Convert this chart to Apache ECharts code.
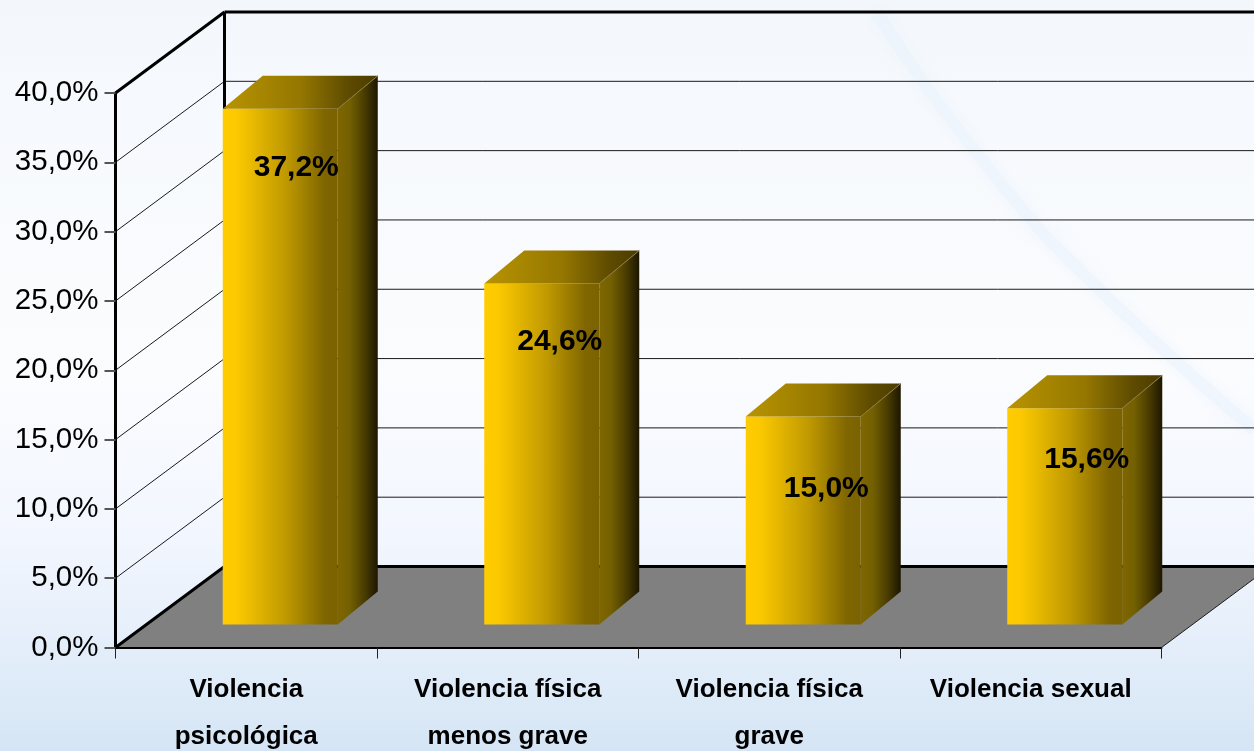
<!DOCTYPE html>
<html>
<head>
<meta charset="utf-8">
<style>
  html, body { margin: 0; padding: 0; }
  #chart { width: 1254px; height: 751px; }
</style>
<script src="https://cdn.jsdelivr.net/npm/echarts@6/dist/echarts.min.js"></script>
</head>
<body>
<div id="chart"></div>
<script>
const categories = ['Violencia\npsicológica', 'Violencia física\nmenos grave', 'Violencia física\ngrave', 'Violencia sexual'];
const values = [37.2, 24.6, 15.0, 15.6];
const yTicks = [5, 10, 15, 20, 25, 30, 35];

// the fake 3D box: how far the back wall sits from the axes
const wallDx = 109, wallDy = -81;
// bars stand in the middle of the floor
const barShiftX = 34, barShiftY = -23, barWidth = 115;
const barDx = 40, barDy = -33;
// labels are not centred in the original, each one was moved by hand
const labelNudge = [[16, 59], [18, 58], [23, 72], [22, 51]];

const fmt = v => v.toFixed(1).replace('.', ',') + '%';
const hGrad = (stops) => ({
  type: 'linear', x: 0, y: 0, x2: 1, y2: 0,
  colorStops: stops.map(s => ({ offset: s[0], color: s[1] }))
});

function renderWalls(params, api) {
  const o = api.coord([0, 0]);
  const top = api.coord([0, 40]);
  const end = api.coord([categories.length - 1, 0]);
  const half = api.size([1, 0])[0] / 2;
  const x0 = o[0] - half, x1 = end[0] + half, y0 = o[1], yT = top[1];
  const thick = { stroke: '#000', lineWidth: 3, fill: null };
  const thin = { stroke: '#1a1a1a', lineWidth: 1, fill: null };
  const line = (a, b, c, d, style) => ({ type: 'line', shape: { x1: a, y1: b, x2: c, y2: d }, style: style });
  const kids = [{
    type: 'polygon',
    shape: { points: [[x0, y0], [x0 + wallDx, y0 + wallDy], [x1 + wallDx, y0 + wallDy], [x1, y0]] },
    style: { fill: '#808080' }
  }];
  yTicks.forEach(t => {
    const y = api.coord([0, t])[1];
    kids.push(line(x0, y, x0 + wallDx, y + wallDy, thin));
    kids.push(line(x0 + wallDx, y + wallDy, x1 + wallDx, y + wallDy, thin));
  });
  kids.push(line(x0, yT, x0 + wallDx, yT + wallDy, thick));
  kids.push(line(x0 + wallDx, yT + wallDy, x1 + wallDx, yT + wallDy, thick));
  kids.push(line(x0 + wallDx, yT + wallDy, x0 + wallDx, y0 + wallDy, thick));
  kids.push(line(x0, y0, x0 + wallDx, y0 + wallDy, thick));
  kids.push(line(x0 + wallDx, y0 + wallDy, x1 + wallDx, y0 + wallDy, thick));
  kids.push(line(x1, y0, x1 + wallDx, y0 + wallDy, thin));
  return { type: 'group', children: kids };
}

function renderBar(params, api) {
  const i = api.value(0);
  const base = api.coord([i, 0]);
  const head = api.coord([i, api.value(1)]);
  const left = base[0] + barShiftX - barWidth / 2;
  const right = left + barWidth;
  const yb = base[1] + barShiftY;
  const yt = head[1] + barShiftY;
  const nudge = labelNudge[i];
  return {
    type: 'group',
    children: [
      {
        type: 'polygon',
        shape: { points: [[left, yb], [left, yt], [right, yt], [right, yb]] },
        style: { fill: hGrad([[0, '#ffcc00'], [0.12, '#fcc900'], [0.55, '#bf9900'], [0.88, '#806600'], [1, '#7a6200']]) }
      },
      {
        type: 'polygon',
        shape: { points: [[right, yb], [right, yt], [right + barDx, yt + barDy], [right + barDx, yb + barDy]] },
        style: { fill: hGrad([[0, '#806600'], [0.3, '#736000'], [0.7, '#463900'], [1, '#1c1600']]) }
      },
      {
        type: 'polygon',
        shape: { points: [[left, yt], [left + barDx, yt + barDy], [right + barDx, yt + barDy], [right, yt]] },
        style: { fill: hGrad([[0, '#b89400'], [0.5, '#957700'], [0.8, '#5f4c00'], [1, '#4a3b00']]) }
      },
      {
        type: 'line',
        shape: { x1: right, y1: yt, x2: right + barDx, y2: yt + barDy },
        style: { stroke: '#8a7a40', lineWidth: 1 }
      },
      {
        type: 'text',
        style: {
          x: (left + right) / 2 + nudge[0],
          y: yt + nudge[1],
          text: fmt(api.value(1)),
          font: 'bold 30px "Liberation Sans", Arial, sans-serif',
          fill: '#000',
          align: 'center',
          verticalAlign: 'middle'
        }
      }
    ]
  };
}

const chart = echarts.init(document.getElementById('chart'), null, { renderer: 'canvas' });
chart.setOption({
  animation: false,
  backgroundColor: {
    type: 'linear', x: 0, y: 0, x2: 0, y2: 1,
    colorStops: [
      { offset: 0, color: '#f3f7fc' },
      { offset: 0.13, color: '#f6f9fd' },
      { offset: 0.5, color: '#fbfcfe' },
      { offset: 0.72, color: '#f2f6fe' },
      { offset: 0.86, color: '#e4eefa' },
      { offset: 1, color: '#d5e5f5' }
    ]
  },
  graphic: [{
    type: 'polyline',
    z: -1,
    silent: true,
    shape: { points: [[877, 13], [934, 97], [1034, 223], [1100, 290], [1167, 353], [1254, 430]], smooth: 0.3 },
    style: { stroke: 'rgba(232,242,252,0.45)', lineWidth: 12, fill: null, shadowBlur: 14, shadowColor: 'rgba(228,240,252,0.8)' }
  }],
  grid: { left: 115.5, right: 92.5, top: 93, bottom: 103.5, outerBoundsMode: 'none' },
  xAxis: {
    type: 'category',
    data: categories,
    z: 5,
    axisLine: { lineStyle: { color: '#000', width: 2 } },
    axisTick: { show: true, alignWithLabel: false, length: 11, lineStyle: { color: '#222', width: 1 } },
    axisLabel: {
      margin: 19,
      interval: 0,
      color: '#000',
      fontFamily: '"Liberation Sans", Arial, sans-serif',
      fontWeight: 'bold',
      fontSize: 26,
      lineHeight: 47
    }
  },
  yAxis: {
    type: 'value',
    min: 0,
    max: 40,
    interval: 5,
    z: 5,
    splitLine: { show: false },
    axisLine: { show: true, lineStyle: { color: '#000', width: 3 } },
    axisTick: { show: true, length: 11, lineStyle: { color: '#555', width: 2 } },
    axisLabel: {
      margin: 17,
      color: '#000',
      fontFamily: '"Liberation Sans", Arial, sans-serif',
      fontSize: 29.5,
      formatter: fmt
    }
  },
  series: [
    { type: 'custom', silent: true, z: 1, renderItem: renderWalls, data: [[0, 0]] },
    { type: 'custom', silent: true, z: 2, renderItem: renderBar, encode: { x: 0, y: 1 }, data: values.map((v, i) => [i, v]) }
  ]
});
</script>
</body>
</html>
